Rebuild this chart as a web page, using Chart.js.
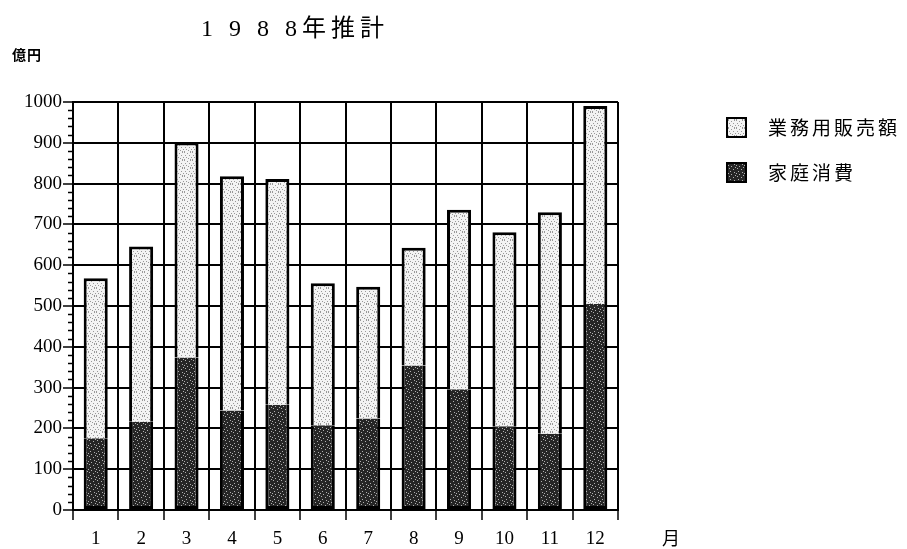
<!DOCTYPE html>
<html lang="ja">
<head>
<meta charset="utf-8">
<title>1988年推計</title>
<script src="https://cdn.jsdelivr.net/npm/chart.js@4/dist/chart.umd.min.js"></script>
<style>
  html, body { margin: 0; padding: 0; background: #ffffff; }
  #wrap { width: 907px; height: 549px; }
</style>
</head>
<body>
<div id="wrap"><canvas id="chart" width="907" height="549"></canvas></div>
<script>
// Monthly values, in 億円
const months = ['1', '2', '3', '4', '5', '6', '7', '8', '9', '10', '11', '12'];
const householdUse = [176, 216, 374, 244, 258, 208, 224, 354, 296, 205, 187, 505];   // 家庭消費
const businessSales = [392, 430, 527, 574, 553, 348, 323, 289, 440, 476, 543, 485];  // 業務用販売額 (stacked on top)
const yTicks = [0, 100, 200, 300, 400, 500, 600, 700, 800, 900, 1000];

const titleText = '1 9 8 8年推計';
const unitText = '億円';
const xUnitText = '月';

const SERIF = '"Liberation Serif", "Noto Sans CJK JP", serif';
const CJK = '"Noto Sans CJK JP", sans-serif';

// Stipple fills built from a small fixed dot layout
function stipple(base, dot, dots, size) {
  const c = document.createElement('canvas');
  c.width = size; c.height = size;
  const g = c.getContext('2d');
  g.fillStyle = base;
  g.fillRect(0, 0, size, size);
  g.fillStyle = dot;
  dots.forEach(([x, y]) => g.fillRect(x, y, 1, 1));
  return g.createPattern(c, 'repeat');
}
const lightDots = [[0,0],[3,1],[6,0],[1,3],[5,3],[2,5],[7,5],[4,6],[0,7],[6,7]];
const darkDots = [[1,0],[5,1],[2,3],[6,4],[0,5],[3,6],[7,7]];
const lightFill = stipple('#f3f3f3', '#999999', lightDots, 8);
const darkFill = stipple('#262626', '#b0b0b0', darkDots, 8);

// Titles, unit captions, minor y ticks and the side legend
const decorations = {
  id: 'decorations',
  afterDraw(chart) {
    const ctx = chart.ctx;
    const y = chart.scales.y;
    const area = chart.chartArea;
    ctx.save();

    // minor ticks every 20
    ctx.strokeStyle = '#000';
    ctx.lineWidth = 1.5;
    for (let v = 20; v < 1000; v += 20) {
      if (v % 100 === 0) continue;
      const py = Math.round(y.getPixelForValue(v)) + 0.5;
      ctx.beginPath();
      ctx.moveTo(area.left - 5, py);
      ctx.lineTo(area.left, py);
      ctx.stroke();
    }

    ctx.fillStyle = '#000';
    ctx.textBaseline = 'middle';
    ctx.textAlign = 'left';

    ctx.font = '24px ' + SERIF;
    ctx.letterSpacing = '5px';
    ctx.fillText(titleText, 201, 30);

    ctx.font = 'bold 14px ' + CJK;
    ctx.letterSpacing = '1px';
    ctx.fillText(unitText, 12, 55);

    ctx.font = '18px ' + CJK;
    ctx.letterSpacing = '0px';
    ctx.fillText(xUnitText, 662, 538);

    // legend, top series first
    const items = chart.data.datasets.slice().reverse();
    items.forEach((ds, i) => {
      const top = 118 + i * 45;
      ctx.fillStyle = ds.backgroundColor;
      ctx.fillRect(727, top, 19, 19);
      ctx.strokeStyle = '#000';
      ctx.lineWidth = 2;
      ctx.strokeRect(727, top, 19, 19);
      ctx.fillStyle = '#000';
      ctx.font = '19px ' + CJK;
      ctx.letterSpacing = '3px';
      ctx.fillText(ds.label, 768, top + 10);
    });
    ctx.restore();
  }
};

new Chart(document.getElementById('chart'), {
  type: 'bar',
  data: {
    labels: months,
    datasets: [
      {
        label: '家庭消費',
        data: householdUse,
        backgroundColor: darkFill,
        borderColor: '#000',
        borderWidth: 3,
        borderSkipped: 'end',
        categoryPercentage: 1,
        barPercentage: 0.53
      },
      {
        label: '業務用販売額',
        data: businessSales,
        backgroundColor: lightFill,
        borderColor: '#000',
        borderWidth: 3,
        borderSkipped: 'start',
        categoryPercentage: 1,
        barPercentage: 0.53
      }
    ]
  },
  options: {
    responsive: false,
    animation: false,
    devicePixelRatio: 1,
    layout: { padding: { left: 0, top: 102, right: 289, bottom: 0 } },
    plugins: {
      legend: { display: false },
      title: { display: false },
      tooltip: { enabled: false }
    },
    scales: {
      x: {
        stacked: true,
        offset: true,
        grid: {
          offset: true,
          color: '#000',
          lineWidth: 2,
          tickLength: 10,
          tickColor: '#000',
          tickWidth: 1.5
        },
        border: { color: '#000', width: 2 },
        ticks: {
          color: '#000',
          font: { family: SERIF, size: 19 },
          padding: 8,
          maxRotation: 0
        },
        afterFit(s) { s.height = 39; }
      },
      y: {
        stacked: true,
        min: 0,
        max: 1000,
        afterBuildTicks(s) { s.ticks = yTicks.map(v => ({ value: v })); },
        grid: {
          color: '#000',
          lineWidth: 2,
          tickLength: 10,
          tickColor: '#000',
          tickWidth: 1.5
        },
        border: { color: '#000', width: 2 },
        ticks: {
          color: '#000',
          font: { family: SERIF, size: 19 },
          padding: 1,
          callback: (v) => String(v)
        },
        afterFit(s) { s.width = 73; }
      }
    }
  },
  plugins: [decorations]
});
</script>
</body>
</html>
